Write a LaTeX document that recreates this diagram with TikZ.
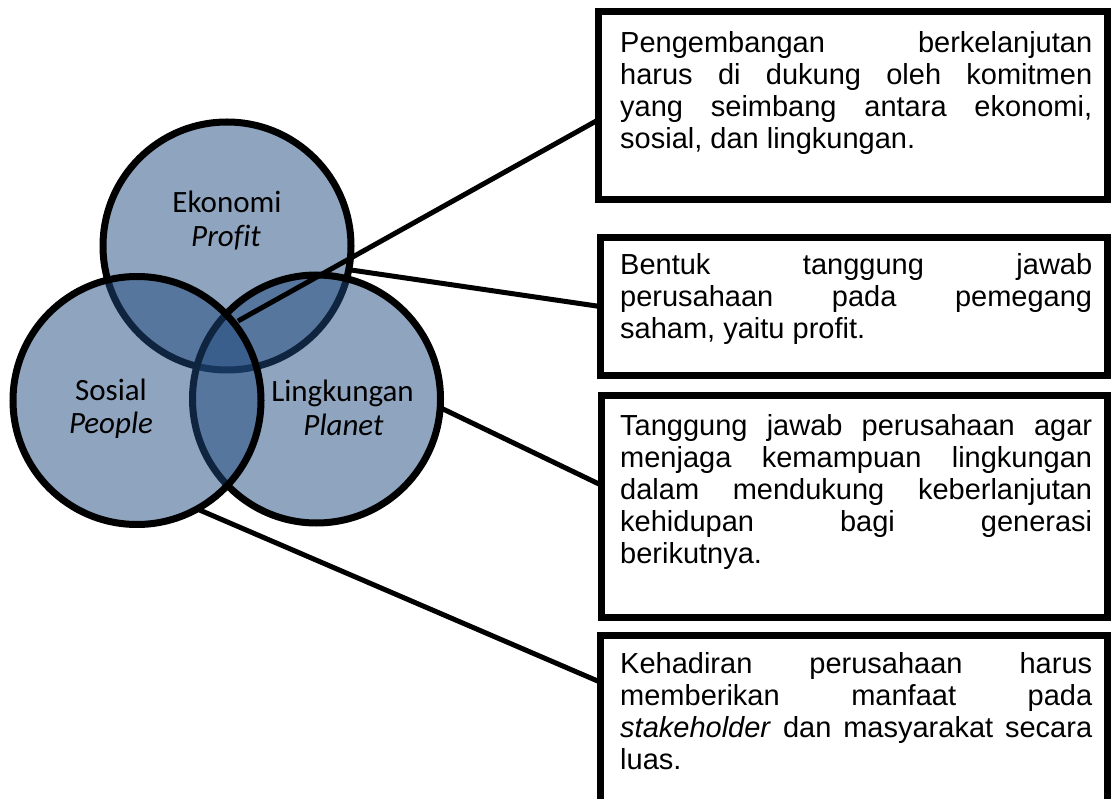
\documentclass[tikz,border=0pt]{standalone}
\usepackage{fontspec}
\newfontfamily\arialf{Liberation Sans}[Ligatures=NoCommon]
\newfontfamily\calib{Carlito}[Ligatures=NoCommon]
\usetikzlibrary{calc}
\definecolor{vennblue}{HTML}{1F497D}
\tolerance=10000
\hbadness=10000
\begin{document}
\begin{tikzpicture}[x=1pt,y=-1pt,
  venn/.style={circle, draw=black, line width=7pt, fill=vennblue, fill opacity=0.5,
    minimum size=248pt, inner sep=0pt, outer sep=0pt},
  vlabel/.style={font=\calib\fontsize{31}{33}\selectfont, inner sep=0pt, anchor=base},
  vlabeli/.style={vlabel, font=\calib\itshape\fontsize{31}{33}\selectfont},
  infobox/.style={draw=black, line width=7pt, rectangle, inner sep=0pt, outer sep=0pt,
    anchor=north west},
  infotext/.style={font=\arialf\fontsize{29}{32}\selectfont, text width=472pt,
    align=justify, inner sep=0pt, anchor=base west},
  link/.style={line width=5pt, draw=black}]
\useasboundingbox (0,0) rectangle (1113,799);
\clip (0,0) rectangle (1113,799);

% Venn circles
\node[venn] (eko) at (227,246) {};
\node[venn] (lin) at (316.5,399) {};
\node[venn] (sos) at (137,400.5) {};

% boxes
\node[infobox, minimum width=509pt, minimum height=188pt] (b1) at (598,12) {};
\node[infobox, minimum width=507pt, minimum height=137pt] (b2) at (600,238) {};
\node[infobox, minimum width=506pt, minimum height=222pt] (b3) at (601,395) {};
\node[infobox, minimum width=507pt, minimum height=220pt] (b4) at (600,635) {};

% connectors
\coordinate (e1) at (238,321);
\draw[link] ($(b1.west)+(0,14)$) -- (e1);
\draw[link] (eko.-11) -- (b2.west);
\draw[link] (lin.-4) -- ($(b3.west)+(0,-21)$);
\draw[link] (sos.-61) -- ($(b4.north west)+(0,47)$);

% circle labels
\node[vlabel] (ekot) at (227,213) {Ekonomi};
\node[vlabeli] (ekop) at (226,247) {Profit};
\node[vlabel] (sost) at (111,400) {Sosial};
\node[vlabeli] (sosp) at (111,433) {People};
\node[vlabel] (lint) at (342.5,401.7) {Lingkungan};
\node[vlabeli] (linp) at (343.5,435) {Planet};

% box texts
\node[infotext] (t1) at (620,53) {Pengembangan berkelanjutan\linebreak
  harus di dukung oleh komitmen\linebreak
  yang seimbang antara ekonomi,\linebreak
  sosial, dan lingkungan.};
\node[infotext] (t2) at (620,275) {Bentuk tanggung jawab\linebreak
  perusahaan pada pemegang\linebreak
  saham, yaitu profit.};
\node[infotext] (t3) at (620,435) {Tanggung jawab perusahaan agar\linebreak
  menjaga kemampuan lingkungan\linebreak
  dalam mendukung keberlanjutan\linebreak
  kehidupan bagi generasi\linebreak
  berikutnya.};
\node[infotext] (t4) at (620,673) {Kehadiran perusahaan harus\linebreak
  memberikan manfaat pada\linebreak
  \textit{stakeholder} dan masyarakat secara\linebreak
  luas.};
\end{tikzpicture}
\end{document}
